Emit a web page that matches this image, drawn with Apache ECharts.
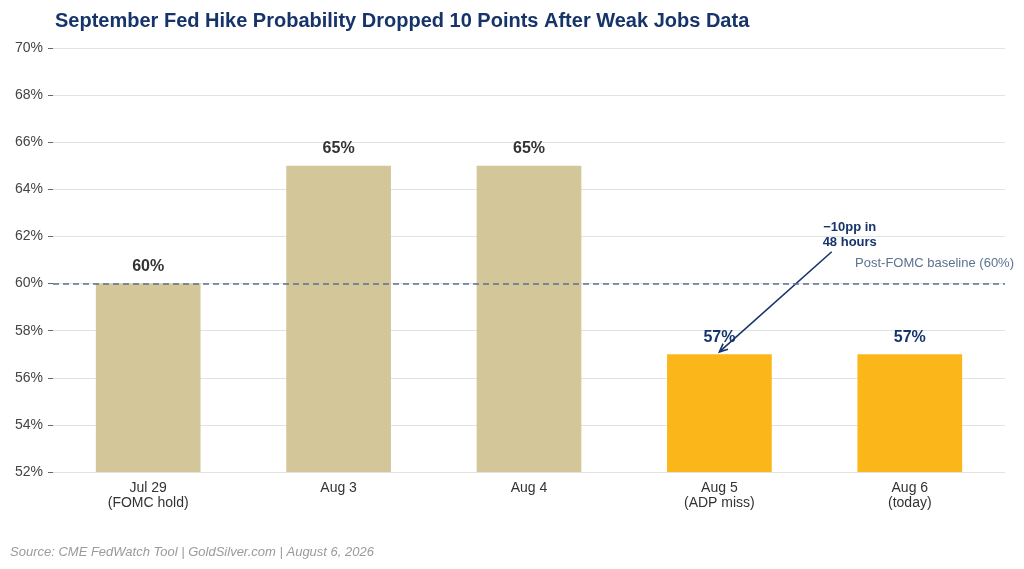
<!DOCTYPE html>
<html>
<head>
<meta charset="utf-8">
<script src="https://cdn.jsdelivr.net/npm/echarts@6/dist/echarts.min.js"></script>
<style>
html,body{margin:0;padding:0;background:#fff;}
#chart{width:1024px;height:569px;}
</style>
</head>
<body>
<div id="chart"></div>
<script>
var categories = ["Jul 29\n(FOMC hold)", "Aug 3", "Aug 4", "Aug 5\n(ADP miss)", "Aug 6\n(today)"];
var probValues = [60, 65, 65, 57, 57];
var afterJobs = [false, false, false, true, true];
var baseline = 60;
// arrow from a point to the right of Aug 5 down to its bar top
var arrowFrom = [3.59, 61.35];
var arrowTo = [3.0, 57.1];

var tan = '#d3c79a', gold = '#fbb719', navy = '#16346a', slate = '#5b7291';

var barData = probValues.map(function (v, i) {
    return {
        value: v,
        itemStyle: { color: afterJobs[i] ? gold : tan },
        label: { color: afterJobs[i] ? navy : '#333333' }
    };
});

var myChart = echarts.init(document.getElementById('chart'));
myChart.setOption({
    animation: false,
    title: {
        text: 'September Fed Hike Probability Dropped 10 Points After Weak Jobs Data',
        left: 50,
        top: 6,
        textStyle: { color: navy, fontSize: 20, fontWeight: 'bold', fontFamily: 'Liberation Sans' }
    },
    grid: { left: 53, right: 19, top: 48, bottom: 97 },
    xAxis: {
        type: 'category',
        data: categories,
        axisLine: { show: false },
        axisTick: { show: false },
        axisLabel: { color: '#333', fontSize: 14, fontFamily: 'Liberation Sans', lineHeight: 15, margin: 9 }
    },
    yAxis: {
        type: 'value',
        min: 52,
        max: 70,
        interval: 2,
        axisLine: { show: false },
        axisTick: { show: true, length: 5, lineStyle: { color: '#666' } },
        splitLine: { lineStyle: { color: '#e2e2e2', width: 1 } },
        axisLabel: {
            formatter: '{value}%',
            color: '#444',
            fontSize: 14,
            fontFamily: 'Liberation Sans',
            margin: 10
        }
    },
    series: [{
        type: 'bar',
        data: barData,
        barWidth: '55%',
        label: {
            show: true,
            position: 'top',
            distance: 9,
            formatter: '{c}%',
            fontSize: 16,
            fontWeight: 'bold',
            fontFamily: 'Liberation Sans'
        },
        markLine: {
            silent: true,
            symbol: 'none',
            label: { show: false },
            lineStyle: { color: slate, type: [6, 4], width: 1.5 },
            data: [{ yAxis: baseline }]
        }
    }]
});

function placeNotes() {
    var x0 = myChart.convertToPixel({ xAxisIndex: 0 }, 3);
    var x1 = myChart.convertToPixel({ xAxisIndex: 0 }, 4);
    var p0 = [x0 + (x1 - x0) * (arrowFrom[0] - 3), myChart.convertToPixel({ yAxisIndex: 0 }, arrowFrom[1])];
    var p1 = [x0 + (x1 - x0) * (arrowTo[0] - 3), myChart.convertToPixel({ yAxisIndex: 0 }, arrowTo[1])];
    var yBase = myChart.convertToPixel({ yAxisIndex: 0 }, baseline);
    var ang = Math.atan2(p1[1] - p0[1], p1[0] - p0[0]);
    var hl = 9, hw = 0.42;
    myChart.setOption({
        graphic: [
            {
                type: 'line',
                shape: { x1: p0[0], y1: p0[1], x2: p1[0], y2: p1[1] },
                style: { stroke: navy, lineWidth: 1.6 }
            },
            {
                type: 'polyline',
                shape: { points: [
                    [p1[0] - hl * Math.cos(ang - hw), p1[1] - hl * Math.sin(ang - hw)],
                    [p1[0], p1[1]],
                    [p1[0] - hl * Math.cos(ang + hw), p1[1] - hl * Math.sin(ang + hw)]
                ] },
                style: { stroke: navy, lineWidth: 1.6, fill: null }
            },
            {
                type: 'text',
                x: p0[0] + 18,
                y: p0[1] - 2,
                style: {
                    text: '\u221210pp in\n48 hours',
                    fill: navy,
                    font: 'bold 13px "Liberation Sans"',
                    align: 'center',
                    verticalAlign: 'bottom',
                    lineHeight: 15
                }
            },
            {
                type: 'text',
                x: 1014,
                y: yBase - 14,
                style: {
                    text: 'Post-FOMC baseline (60%)',
                    fill: slate,
                    font: '13px "Liberation Sans"',
                    align: 'right',
                    verticalAlign: 'bottom'
                }
            },
            {
                type: 'text',
                x: 10,
                y: 552,
                style: {
                    text: 'Source: CME FedWatch Tool | GoldSilver.com | August 6, 2026',
                    fill: '#9a9a9a',
                    font: 'italic 13px "Liberation Sans"',
                    verticalAlign: 'middle'
                }
            }
        ]
    });
}
placeNotes();
</script>
</body>
</html>
